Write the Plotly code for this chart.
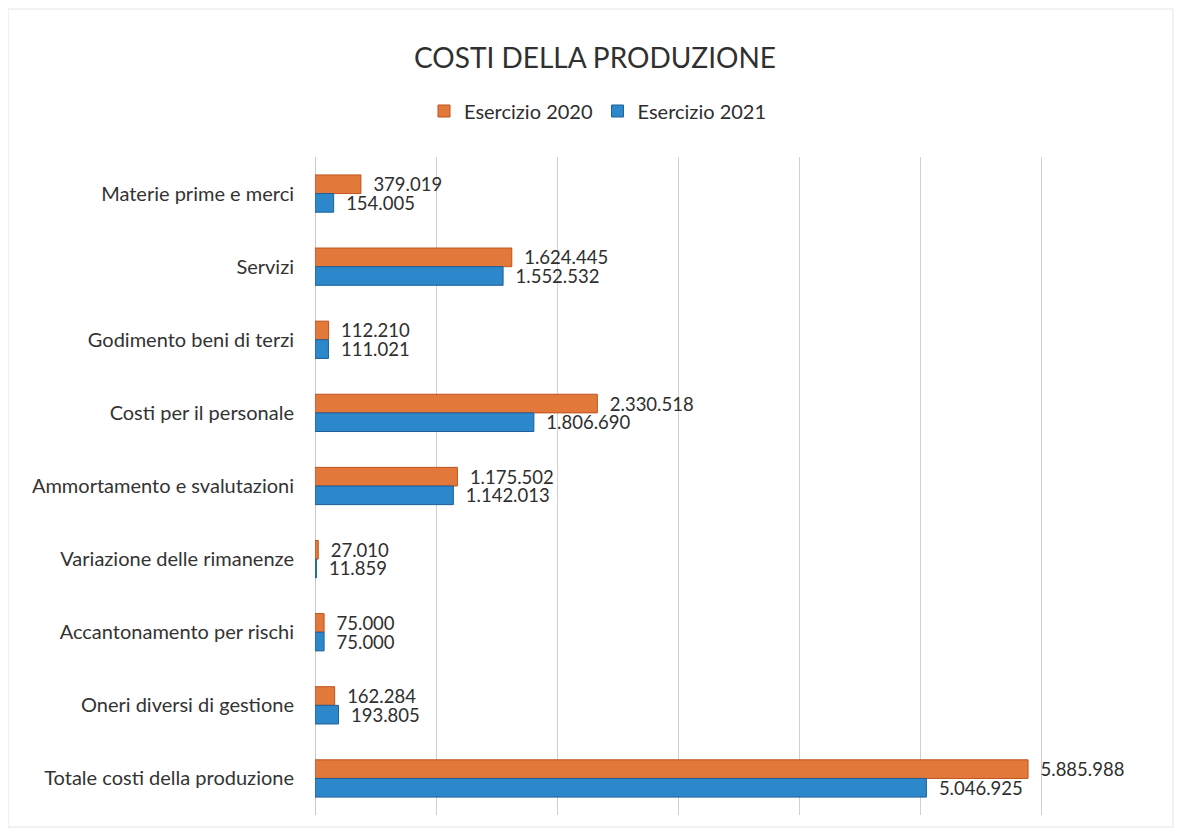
import plotly.graph_objects as go

# categories, top to bottom as in the reference
categories = [
    'Materie prime e merci',
    'Servizi',
    'Godimento beni di terzi',
    'Costi per il personale',
    'Ammortamento e svalutazioni',
    'Variazione delle rimanenze',
    'Accantonamento per rischi',
    'Oneri diversi di gestione',
    'Totale costi della produzione',
]
esercizio_2020 = [379019, 1624445, 112210, 2330518, 1175502, 27010, 75000, 162284, 5885988]
esercizio_2021 = [154005, 1552532, 111021, 1806690, 1142013, 11859, 75000, 193805, 5046925]
series_names = ['Esercizio 2020', 'Esercizio 2021']


def it_fmt(v):
    # italian thousands separator, small gap before the number
    return '\u00a0\u00a0' + f'{v:,}'.replace(',', '.')


font_family = 'Lato, Open Sans, sans-serif'
txt_color = '#2E2E2E'

# page body has an 8px margin, so the figure is 16px smaller than the window
W, H = 1166, 820
plot_l, plot_r, plot_t, plot_b = 307, 1155, 149, 807

fig = go.Figure()
fig.add_trace(go.Bar(
    y=categories, x=esercizio_2020, name=series_names[0], orientation='h',
    marker=dict(color='#E2793A', line=dict(color='#C0531F', width=1)),
    text=[it_fmt(v) for v in esercizio_2020], textposition='outside',
    constraintext='none',
    textfont=dict(size=18.5, color=txt_color, family=font_family), cliponaxis=False,
))
fig.add_trace(go.Bar(
    y=categories, x=esercizio_2021, name=series_names[1], orientation='h',
    marker=dict(color='#2C87CB', line=dict(color='#1F5E9A', width=1)),
    text=[it_fmt(v) for v in esercizio_2021], textposition='outside',
    constraintext='none',
    textfont=dict(size=18.5, color=txt_color, family=font_family), cliponaxis=False,
))

pw = plot_r - plot_l
ph = plot_b - plot_t

fig.update_layout(
    width=W, height=H,
    paper_bgcolor='white', plot_bgcolor='white',
    margin=dict(l=plot_l, r=W - plot_r, t=plot_t, b=H - plot_b, autoexpand=False),
    barmode='group', bargap=0.49, bargroupgap=0,
    font=dict(family=font_family, color=txt_color, size=20),
    title=dict(text='COSTI DELLA PRODUZIONE', x=(595 - 8) / W, xanchor='center',
               y=1 - 50 / H, yanchor='middle',
               font=dict(size=28, color='#303030', family=font_family)),
    legend=dict(orientation='h', x=(598 - 8 - plot_l) / pw, xanchor='center',
                y=1 + 46 / ph, yanchor='middle',
                font=dict(size=20, color=txt_color), itemwidth=30,
                traceorder='normal'),
    xaxis=dict(range=[0, 7000000], dtick=1000000, showticklabels=False,
               showgrid=True, gridcolor='#D0D0D0', gridwidth=1,
               zeroline=True, zerolinecolor='#C8C8C8', zerolinewidth=1,
               fixedrange=True, automargin=False),
    yaxis=dict(autorange='reversed', showgrid=False, ticks='',
               ticklabelstandoff=20, automargin=False,
               tickfont=dict(size=20, color='#333333')),
)

# faint frame round the chart, as in the scanned original
fig.add_shape(type='rect', xref='paper', yref='paper',
              x0=-plot_l / pw, x1=1 + (W - plot_r - 1) / pw,
              y0=-(H - plot_b - 1) / ph, y1=1 + (plot_t - 1) / ph,
              line=dict(color='#E4E4E4', width=1))

fig.write_html('out.html')
